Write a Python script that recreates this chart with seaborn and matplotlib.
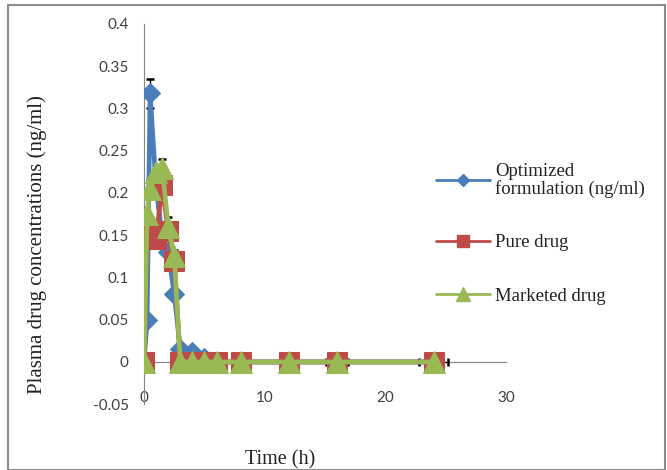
import numpy as np
import pandas as pd
import seaborn as sns
import matplotlib
matplotlib.use("Agg")
import matplotlib.pyplot as plt
from matplotlib.patches import Rectangle

# ---------------- data ----------------
time_h = [0, 0.25, 0.5, 1, 1.5, 2, 2.5, 3, 4, 5, 6, 8, 12, 16, 24]
optimized = [0, 0.05, 0.318, 0.205, 0.15, 0.13, 0.08, 0.015, 0.012, 0.005, 0, 0, 0, 0, 0]
pure = [0, 0.15, 0.15, 0.145, 0.21, 0.155, 0.12, 0, 0, 0, 0, 0, 0, 0, 0]
marketed = [0, 0.175, 0.205, 0.225, 0.23, 0.16, 0.125, 0, 0, 0, 0, 0, 0, 0, 0]
optimized_err = [0, 0, 0.017, 0.012, 0, 0.01, 0, 0, 0, 0, 0, 0, 0, 0, 0]
pure_err = [0, 0, 0, 0, 0.01, 0.008, 0.006, 0, 0, 0, 0, 0, 0, 0, 0]
marketed_err = [0, 0, 0.01, 0, 0.01, 0.012, 0.008, 0, 0, 0, 0, 0, 0, 0, 0]
marketed_xerr = [0, 0, 0, 0, 0, 0, 0, 0, 0, 0, 0, 0, 0, 0.9, 1.2]

series_names = ["Optimized\nformulation (ng/ml)", "Pure drug", "Marketed drug"]
series_values = [optimized, pure, marketed]
series_errs = [optimized_err, pure_err, marketed_err]
series_colors = ["#4a7ebb", "#be4b48", "#98b954"]
series_markers = ["D", "s", "^"]
series_msize = [10, 14.5, 16]

xticks = [0, 10, 20, 30]
xtick_labels = ["0", "10", "20", "30"]
yticks = [-0.05, 0, 0.05, 0.1, 0.15, 0.2, 0.25, 0.3, 0.35, 0.4]
ytick_labels = ["-0.05", "0", "0.05", "0.1", "0.15", "0.2", "0.25", "0.3", "0.35", "0.4"]

x_label = "Time (h)"
y_label = "Plasma drug concentrations (ng/ml)"

# ---------------- figure ----------------
sns.set_style("white")
plt.rcParams["font.family"] = ["Liberation Serif", "DejaVu Serif"]

fig = plt.figure(figsize=(6.67, 4.70), dpi=100)
ax = fig.add_axes([0.216, 0.140, 0.543, 0.809])

handles = []
for name, vals, errs, col, mk, ms in zip(series_names, series_values, series_errs,
                                         series_colors, series_markers, series_msize):
    df = pd.DataFrame({"time": time_h, "conc": vals})
    sns.lineplot(data=df, x="time", y="conc", ax=ax, color=col, linewidth=3.4,
                 marker=mk, markersize=ms, markeredgecolor=col, legend=False,
                 estimator=None, sort=False, zorder=3)
    e = np.array(errs)
    m = e > 0
    ax.errorbar(np.array(time_h)[m], np.array(vals)[m], yerr=e[m], fmt="none",
                ecolor="black", elinewidth=1.0, capsize=3, capthick=1.8, zorder=2.9)
    handles.append(plt.Line2D([], [], color=col, linewidth=2, marker=mk,
                              markersize=ms * 0.62, markeredgecolor=col))

xe = np.array(marketed_xerr)
m = xe > 0
ax.errorbar(np.array(time_h)[m], np.array(marketed)[m], xerr=xe[m], fmt="none",
            ecolor="black", elinewidth=1.0, capsize=3, capthick=1.8, zorder=2.9)

ax.set_xlim(0, 30)
ax.set_ylim(-0.05, 0.4)
ax.set_xticks(xticks)
ax.set_xticklabels(xtick_labels)
ax.set_yticks(yticks)
ax.set_yticklabels(ytick_labels)

for s in ["top", "right"]:
    ax.spines[s].set_visible(False)
ax.spines["bottom"].set_position(("data", 0))
ax.spines["bottom"].set_color("#868686")
ax.spines["left"].set_color("#868686")
ax.spines["bottom"].set_zorder(1)

ax.tick_params(axis="x", direction="out", length=4, color="#868686", pad=17,
               labelsize=11, labelcolor="#404040")
ax.tick_params(axis="y", direction="out", length=5, color="#868686", pad=6,
               labelsize=11, labelcolor="#404040")
for lbl in ax.get_xticklabels() + ax.get_yticklabels():
    lbl.set_family(["Lato", "DejaVu Sans"])

ax.set_xlabel("")
ax.set_ylabel("")
fig.text(0.42, 0.022, x_label, fontsize=14.5, ha="center", va="center", color="#222222")
fig.text(0.055, 0.48, y_label, fontsize=15, ha="center", va="center",
         rotation=90, color="#222222")

leg = fig.legend(handles, series_names, loc="upper left",
                 bbox_to_anchor=(0.629, 0.69), frameon=False, fontsize=13.5,
                 handlelength=2.85, labelspacing=1.95, handletextpad=0.3)
for t in leg.get_texts():
    t.set_color("#222222")
    t.set_linespacing(1.0)

fig.patches.append(Rectangle((0.012, 0.0), 0.985, 0.99, transform=fig.transFigure,
                             fill=False, edgecolor="#8c8c8c", linewidth=1.5))

fig.savefig("out.png", dpi=100)
